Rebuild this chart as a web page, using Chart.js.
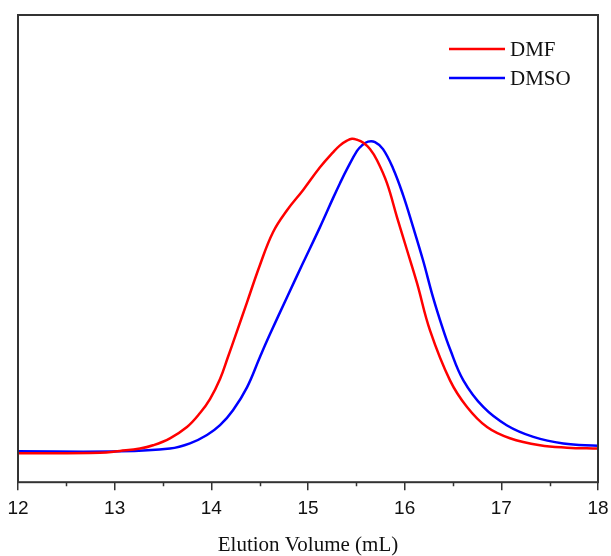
<!DOCTYPE html>
<html>
<head>
<meta charset="utf-8">
<title>Elution profiles</title>
<script src="https://cdn.jsdelivr.net/npm/chart.js@4"></script>
<style>
  html, body { margin: 0; padding: 0; background: #fff; }
  #chart-context { display: block; }
</style>
</head>
<body>
<canvas id="chart-context" width="611" height="556"></canvas>
<script>
"use strict";
// elution volume (mL) and normalised detector signal
const dmfVolume = [
  12.0, 12.848, 13.055, 13.262, 13.397, 13.572, 13.748, 13.883, 13.986, 14.09,
  14.172, 14.255, 14.369, 14.503, 14.638, 14.783, 14.948, 15.124, 15.259,
  15.331, 15.403, 15.455, 15.507, 15.569, 15.641, 15.714, 15.817, 15.921,
  16.024, 16.128, 16.262, 16.469, 16.645, 16.852, 17.089, 17.4, 17.679, 18.0,
];
const dmfSignal = [
  0.062, 0.063, 0.067, 0.072, 0.079, 0.094, 0.118, 0.148, 0.178, 0.221,
  0.268, 0.317, 0.385, 0.465, 0.535, 0.582, 0.625, 0.674, 0.706,
  0.721, 0.731, 0.735, 0.733, 0.727, 0.713, 0.689, 0.64, 0.567,
  0.497, 0.426, 0.325, 0.218, 0.161, 0.118, 0.094, 0.079, 0.074, 0.072,
];
const dmsoVolume = [
  12.0, 13.055, 13.572, 13.779, 13.955, 14.09, 14.224, 14.369, 14.503, 14.607,
  14.783, 14.948, 15.124, 15.259, 15.331, 15.403, 15.507, 15.559, 15.621,
  15.693, 15.776, 15.879, 15.983, 16.086, 16.19, 16.293, 16.386, 16.469,
  16.607, 16.813, 17.055, 17.331, 17.641, 18.0,
];
const dmsoSignal = [
  0.066, 0.066, 0.072, 0.083, 0.101, 0.122, 0.154, 0.203, 0.268, 0.317,
  0.396, 0.469, 0.546, 0.608, 0.64, 0.67, 0.709, 0.721, 0.729,
  0.728, 0.713, 0.672, 0.615, 0.547, 0.475, 0.396, 0.334, 0.285,
  0.218, 0.161, 0.122, 0.097, 0.083, 0.078,
];
const seriesNames = ["DMF", "DMSO"];
const xTicks = [12, 13, 14, 15, 16, 17, 18];

const toPoints = (xs, ys) => xs.map((x, i) => ({ x: x, y: ys[i] }));

// frame, minor ticks and legend
const framePlugin = {
  id: "frame",
  afterDraw(chart) {
    const ctx = chart.ctx;
    const a = chart.chartArea;
    const xs = chart.scales.x;
    ctx.save();
    ctx.strokeStyle = "#333";
    ctx.lineWidth = 2;
    ctx.strokeRect(a.left, a.top, a.right - a.left, a.bottom - a.top);
    ctx.lineWidth = 1.5;
    ctx.beginPath();
    for (let v = xTicks[0] + 0.5; v < xTicks[xTicks.length - 1]; v += 1) {
      const px = Math.round(xs.getPixelForValue(v)) + 0.5;
      ctx.moveTo(px, a.bottom);
      ctx.lineTo(px, a.bottom + 4);
    }
    ctx.stroke();

    // legend
    const colors = ["#ff0000", "#0000ff"];
    ctx.font = "21px 'Liberation Serif'";
    ctx.textBaseline = "middle";
    ctx.fillStyle = "#111";
    seriesNames.forEach((name, i) => {
      const y = 49 + i * 29;
      ctx.strokeStyle = colors[i];
      ctx.lineWidth = 2.5;
      ctx.beginPath();
      ctx.moveTo(449, y);
      ctx.lineTo(505, y);
      ctx.stroke();
      ctx.fillText(name, 510, y + 1);
    });
    ctx.restore();
  },
};

const chartCxt = document.querySelector("#chart-context").getContext("2d");
new Chart(chartCxt, {
  type: "line",
  data: {
    datasets: [
      {
        label: seriesNames[0],
        data: toPoints(dmfVolume, dmfSignal),
        borderColor: "#ff0000",
        borderWidth: 2.5,
      },
      {
        label: seriesNames[1],
        data: toPoints(dmsoVolume, dmsoSignal),
        borderColor: "#0000ff",
        borderWidth: 2.5,
      },
    ],
  },
  options: {
    responsive: false,
    animation: false,
    parsing: false,
    elements: {
      point: { radius: 0 },
      line: { tension: 0.4, fill: false },
    },
    layout: { padding: { left: 18, right: 13, top: 15, bottom: 0 } },
    plugins: {
      legend: { display: false },
      tooltip: { enabled: false },
    },
    scales: {
      x: {
        type: "linear",
        min: 12,
        max: 18,
        afterBuildTicks: (scale) => {
          scale.ticks = xTicks.map((v) => ({ value: v }));
        },
        afterFit: (scale) => {
          scale.paddingLeft = 0;
          scale.paddingRight = 0;
        },
        ticks: {
          color: "#111",
          font: { family: "'Liberation Sans'", size: 19 },
          padding: 7,
          maxRotation: 0,
        },
        grid: {
          drawOnChartArea: false,
          drawTicks: true,
          tickLength: 8,
          color: "#333",
          lineWidth: 1.5,
        },
        border: { display: false },
        title: {
          display: true,
          text: "Elution Volume (mL)",
          color: "#111",
          font: { family: "'Liberation Serif'", size: 21, lineHeight: 1 },
          padding: { top: 8, bottom: 0 },
        },
      },
      y: {
        display: false,
        min: 0,
        max: 1,
      },
    },
  },
  plugins: [framePlugin],
});
</script>
</body>
</html>
